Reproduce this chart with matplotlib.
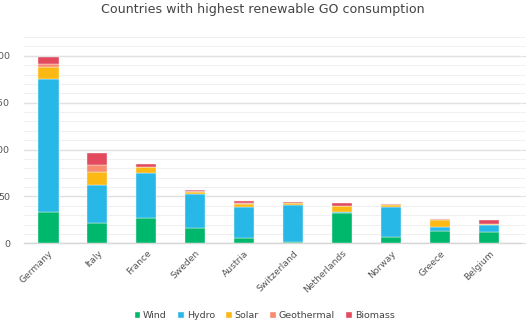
import matplotlib
matplotlib.use("Agg")
import matplotlib.pyplot as plt
import numpy as np
from matplotlib.ticker import MultipleLocator

countries = ["Germany", "Italy", "France", "Sweden", "Austria", "Switzerland",
             "Netherlands", "Norway", "Greece", "Belgium"]
wind       = [33.5, 21.5, 26.5, 16.5, 6.0, 1.5, 32.5, 6.5, 13.5, 12.5]
hydro      = [141.5, 40.5, 48.0, 36.5, 33.0, 39.0, 1.0, 32.0, 4.0, 6.5]
solar      = [13.0, 13.5, 7.0, 2.0, 3.0, 2.5, 6.5, 2.5, 7.0, 1.5]
geothermal = [3.0, 8.0, 0.0, 0.5, 0.5, 0.0, 0.0, 0.5, 1.0, 0.0]
biomass    = [8.0, 13.0, 3.0, 1.5, 3.0, 1.5, 2.5, 0.0, 0.5, 4.5]

series = [("Wind", wind, "#00B86B"), ("Hydro", hydro, "#27B8E8"),
          ("Solar", solar, "#FDB913"), ("Geothermal", geothermal, "#F98C6E"),
          ("Biomass", biomass, "#E34A5E")]

fig = plt.figure(figsize=(5.26, 3.24), dpi=100)
ax = fig.add_axes([24/526, 1-243.3/324, 497/526, 211/324])

x = np.arange(len(countries))
bottom = np.zeros(len(countries))
for name, vals, col in series:
    v = np.array(vals)
    ax.bar(x, v, 0.41, bottom=bottom, color=col, label=name,
           edgecolor="#f4f4f4", linewidth=0.3, zorder=3)
    bottom += v

ax.set_xlim(-0.5, 9.65)
ax.set_ylim(0, 225)
ax.yaxis.set_major_locator(MultipleLocator(50))
ax.yaxis.set_minor_locator(MultipleLocator(10))
ax.grid(which="major", axis="y", color="#e0e0e0", linewidth=1.0, zorder=0)
ax.grid(which="minor", axis="y", color="#f0f0f0", linewidth=0.8, zorder=0)
for s in ["top", "right", "left"]:
    ax.spines[s].set_visible(False)
ax.spines["bottom"].set_color("#d6d6d6")
ax.spines["bottom"].set_linewidth(1.0)
ax.tick_params(axis="y", which="both", left=False, right=True, direction="out",
               length=4, color="#e0e0e0", labelsize=6.8, labelcolor="#555555", pad=6)
ax.tick_params(axis="y", which="minor", length=3, color="#eeeeee")
ax.tick_params(axis="x", length=0, labelsize=6.6, labelcolor="#555555", pad=4)
ax.set_xticks(x)
ax.set_xticklabels(countries, rotation=45, ha="right", rotation_mode="anchor")

fig.text(0.5, 1-10/324, "Countries with highest renewable GO consumption",
         ha="center", va="center", fontsize=9.1, color="#444444")

handles, labels = ax.get_legend_handles_labels()
leg = fig.legend(handles, labels, loc="center", bbox_to_anchor=(0.503, 1-316/324),
                 ncol=5, frameon=False, fontsize=6.8, handlelength=0.6, handleheight=0.6,
                 handletextpad=0.3, columnspacing=1.2, borderpad=0)
for t in leg.get_texts():
    t.set_color("#444444")

fig.savefig("out.png", dpi=100, facecolor="white")
